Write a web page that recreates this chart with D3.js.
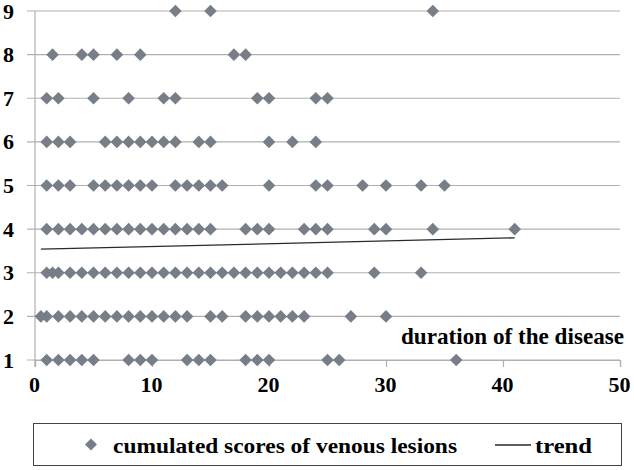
<!DOCTYPE html>
<html>
<head>
<meta charset="utf-8">
<script src="https://cdn.jsdelivr.net/npm/d3@7"></script>
<style>
  html, body { margin: 0; padding: 0; background: #fff; }
  svg { display: block; }
</style>
</head>
<body>
<svg id="chart" width="634" height="470"></svg>
<script>
// ---- data ----
const xTicks = [0, 10, 20, 30, 40, 50];
const yTicks = [1, 2, 3, 4, 5, 6, 7, 8, 9];
// duration of the disease for each cumulated score
const score1 = [1, 2, 3, 4, 5, 8, 9, 10, 13, 14, 15, 18, 19, 20, 25, 26, 36];
const score2 = [0.5, 1, 2, 3, 4, 5, 6, 7, 8, 9, 10, 11, 12, 13, 15, 16, 18, 19, 20, 21, 22, 23, 27, 30];
const score3 = [1, 1.5, 2, 3, 4, 5, 6, 7, 8, 9, 10, 11, 12, 13, 14, 15, 16, 17, 18, 19, 20, 21, 22, 23, 24, 25, 29, 33];
const score4 = [1, 2, 3, 4, 5, 6, 7, 8, 9, 10, 11, 12, 13, 14, 15, 18, 19, 20, 23, 24, 25, 29, 30, 34, 41];
const score5 = [1, 2, 3, 5, 6, 7, 8, 9, 10, 12, 13, 14, 15, 16, 20, 24, 25, 28, 30, 33, 35];
const score6 = [1, 2, 3, 6, 7, 8, 9, 10, 11, 12, 14, 15, 20, 22, 24];
const score7 = [1, 2, 5, 8, 11, 12, 19, 20, 24, 25];
const score8 = [1.5, 4, 5, 7, 9, 17, 18];
const score9 = [12, 15, 34];
const trendX = [0.5, 41];
const trendY = [3.54, 3.80];
const seriesName = "cumulated scores of venous lesions";
const trendName = "trend";
const axisTitle = "duration of the disease";

const scoreRows = [score1, score2, score3, score4, score5, score6, score7, score8, score9];
const points = [];
scoreRows.forEach((row, i) => row.forEach(d => points.push({ x: d, y: yTicks[i] })));

// ---- layout ----
const FONT = '"Liberation Serif", "Times New Roman", serif';
const svg = d3.select("#chart");
const x = d3.scaleLinear().domain([0, 50]).range([35, 620]);
const y = d3.scaleLinear().domain([1, 9]).range([360, 11]);
const gridColor = "#b0b0b0";
const markColor = "#787e88";

function serif(sel, size) {
  sel.style("font-family", FONT).style("font-weight", "bold")
     .style("font-size", size + "px").style("fill", "#000");
}

// gridlines
svg.append("g").selectAll("line").data(yTicks).join("line")
  .attr("x1", x(0) - 8).attr("x2", x(50))
  .attr("y1", d => y(d)).attr("y2", d => y(d))
  .attr("stroke", gridColor).attr("stroke-width", 1.2);

// y axis line
svg.append("line")
  .attr("x1", x(0)).attr("x2", x(0))
  .attr("y1", y(9)).attr("y2", y(1) + 7)
  .attr("stroke", gridColor).attr("stroke-width", 1.2);

// x axis
const xAxis = d3.axisBottom(x).tickValues(xTicks).tickSize(7).tickPadding(9).tickFormat(d3.format("d"));
const gx = svg.append("g").attr("transform", `translate(0,${y(1)})`).call(xAxis);
gx.select(".domain").attr("stroke", gridColor).attr("stroke-width", 1.2);
gx.selectAll(".tick line").attr("stroke", gridColor).attr("stroke-width", 1.2);
gx.selectAll(".tick text").call(serif, 22).attr("dx", -1);

// y labels
const yAxis = d3.axisLeft(y).tickValues(yTicks).tickSize(0).tickPadding(21).tickFormat(d3.format("d"));
const gy = svg.append("g").attr("transform", `translate(${x(0)},0)`).call(yAxis);
gy.select(".domain").remove();
gy.selectAll(".tick text").call(serif, 22);

// diamonds
const diamond = (cx, cy, r) => `M${cx},${cy - r}L${cx + r},${cy}L${cx},${cy + r}L${cx - r},${cy}Z`;
svg.append("g").selectAll("path").data(points).join("path")
  .attr("d", d => diamond(x(d.x), y(d.y), 6.3))
  .attr("fill", markColor);

// trend line
const line = d3.line().x(d => x(d[0])).y(d => y(d[1]));
svg.append("path")
  .datum(trendX.map((d, i) => [d, trendY[i]]))
  .attr("d", line)
  .attr("fill", "none").attr("stroke", "#2a2a2a").attr("stroke-width", 1.3);

// axis title
svg.append("text")
  .attr("x", 401).attr("y", 344)
  .call(serif, 23)
  .attr("textLength", 223).attr("lengthAdjust", "spacingAndGlyphs")
  .text(axisTitle);

// legend
const lg = svg.append("g");
lg.append("rect")
  .attr("x", 33.5).attr("y", 423.5).attr("width", 588).attr("height", 42)
  .attr("fill", "#fff").attr("stroke", "#444").attr("stroke-width", 1);
lg.append("path").attr("d", diamond(91, 444.5, 6)).attr("fill", markColor);
lg.append("text").attr("x", 113).attr("y", 453)
  .call(serif, 22)
  .attr("textLength", 344).attr("lengthAdjust", "spacingAndGlyphs")
  .text(seriesName);
lg.append("line").attr("x1", 495).attr("x2", 531).attr("y1", 445).attr("y2", 445)
  .attr("stroke", "#2a2a2a").attr("stroke-width", 1.3);
lg.append("text").attr("x", 535).attr("y", 453)
  .call(serif, 22)
  .attr("textLength", 57).attr("lengthAdjust", "spacingAndGlyphs")
  .text(trendName);
</script>
</body>
</html>
